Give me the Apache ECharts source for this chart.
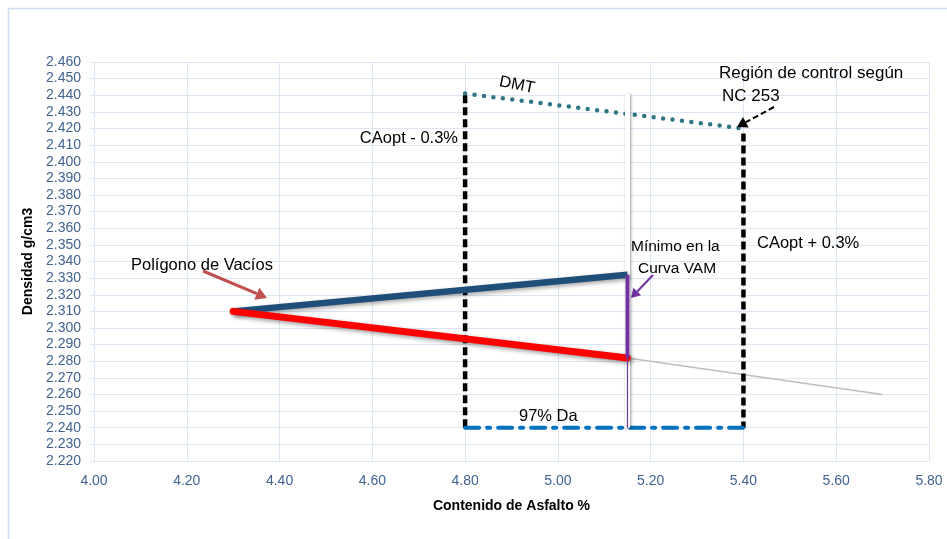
<!DOCTYPE html>
<html>
<head>
<meta charset="utf-8">
<script src="https://cdn.jsdelivr.net/npm/echarts@6/dist/echarts.min.js"></script>
<style>html,body{margin:0;padding:0;background:#fff}#c{width:947px;height:539px}</style>
</head>
<body>
<div id="c"></div>
<script>
// ---- data (x = Contenido de Asfalto %, y = Densidad g/cm3) ----
const vacSupX = [4.30, 5.15];
const vacSupY = [2.310, 2.332];
const vacInfX = [4.30, 5.15];
const vacInfY = [2.310, 2.282];
const extX = [5.15, 5.70];
const extY = [2.282, 2.260];
const dmtX = [4.80, 5.40];
const dmtY = [2.441, 2.420];
const caMenosX = [4.80, 4.80];
const caMenosY = [2.440, 2.240];
const caMasX = [5.40, 5.40];
const caMasY = [2.417, 2.240];
const vamX = [5.15, 5.15];
const vamBlancoY = [2.441, 2.240];
const vamMoradoY = [2.332, 2.282];
const vamFinoY = [2.282, 2.240];
const daX = [4.80, 5.40];
const daY = [2.240, 2.240];
const xMin = 4.00, xMax = 5.80, xStep = 0.20;
const yMin = 2.220, yMax = 2.460, yStep = 0.010;

const pts = (xs, ys) => xs.map((x, i) => [x, ys[i]]);
const FONT = 'Liberation Sans';
const gridColor = '#dce6f2';

function seg(name, xs, ys, ls, z) {
  return { name, type: 'line', data: pts(xs, ys), symbol: 'none', z: z || 2,
    lineStyle: ls, silent: true, animation: false };
}

function arrow(x1, y1, x2, y2, color, w, head, dashed) {
  const ang = Math.atan2(y2 - y1, x2 - x1);
  const hl = head, hw = head * 0.6;
  const bx = x2 - Math.cos(ang) * hl, by = y2 - Math.sin(ang) * hl;
  const px = -Math.sin(ang) * hw, py = Math.cos(ang) * hw;
  return [
    { type: 'line', shape: { x1, y1, x2: bx, y2: by }, style: { stroke: color, lineWidth: w, lineDash: dashed ? [6, 3] : null }, z: 10 },
    { type: 'polygon', shape: { points: [[x2, y2], [bx + px, by + py], [bx - px, by - py]] }, style: { fill: color }, z: 10 }
  ];
}

const txt = (x, y, text, opt, extra) => Object.assign({ type: 'text', x, y, z: 10,
  style: Object.assign({ text, fill: '#000', font: '16.5px ' + FONT, textAlign: 'left', textVerticalAlign: 'middle' }, opt || {}) }, extra || {});

const chart = echarts.init(document.getElementById('c'), null, { renderer: 'canvas' });
chart.setOption({
  animation: false,
  backgroundColor: '#fff',
  grid: { left: 94, right: 18, top: 62, bottom: 78 },
  xAxis: {
    type: 'value', min: xMin, max: xMax, interval: xStep,
    name: 'Contenido de Asfalto %', nameLocation: 'middle', nameGap: 38,
    nameTextStyle: { fontFamily: FONT, fontSize: 14, fontWeight: 'bold', color: '#000' },
    axisLine: { show: true, lineStyle: { color: gridColor, width: 1 } },
    axisTick: { show: false },
    axisLabel: { fontFamily: FONT, fontSize: 14, color: '#41628f', margin: 13, formatter: v => v.toFixed(2) },
    splitLine: { show: true, lineStyle: { color: gridColor, width: 1 } }
  },
  yAxis: {
    type: 'value', min: yMin, max: yMax, interval: yStep,
    name: 'Densidad g/cm3', nameLocation: 'middle', nameGap: 58, nameRotate: 90,
    nameTextStyle: { fontFamily: FONT, fontSize: 14, fontWeight: 'bold', color: '#000' },
    axisLine: { show: true, lineStyle: { color: gridColor, width: 1 } },
    axisTick: { show: true, length: 4, lineStyle: { color: gridColor } },
    axisLabel: { fontFamily: FONT, fontSize: 14, color: '#41628f', margin: 13, formatter: v => v.toFixed(3) },
    splitLine: { show: true, lineStyle: { color: gridColor, width: 1 } }
  },
  series: [
    seg('ext', extX, extY, { color: '#bdbdbd', width: 1.5, shadowColor: 'rgba(255,255,255,1)', shadowBlur: 3 }, 2),
    seg('DMT', dmtX, dmtY, { color: '#2e7585', width: 4.5, type: [0, 9.5], cap: 'round' }, 3),
    seg('CAopt-', caMenosX, caMenosY, { color: '#000', width: 4.5, type: [8, 4] }, 3),
    seg('CAopt+', caMasX, caMasY, { color: '#000', width: 4.5, type: [8, 4] }, 3),
    seg('Da', daX, daY, { color: '#0070c0', width: 4, type: [14, 8, 3, 8], cap: 'round' }, 4),
    seg('vamBlanco', vamX, vamBlancoY, { color: '#ffffff', width: 5, shadowColor: 'rgba(0,0,0,0.4)', shadowBlur: 3, shadowOffsetX: 1, shadowOffsetY: 1 }, 5),
    seg('vacSup', vacSupX, vacSupY, { color: '#1f4e79', width: 6.5, shadowColor: 'rgba(0,0,0,0.35)', shadowBlur: 4, shadowOffsetX: 2, shadowOffsetY: 2 }, 6),
    seg('vacInf', vacInfX, vacInfY, { color: '#ff0000', width: 7, cap: 'round', shadowColor: 'rgba(0,0,0,0.4)', shadowBlur: 4, shadowOffsetX: 2, shadowOffsetY: 2 }, 6),
    seg('vamMorado', vamX, vamMoradoY, { color: '#7030a0', width: 4 }, 7),
    seg('vamFino', vamX, vamFinoY, { color: '#7030a0', width: 1.2 }, 7)
  ]
});

const g = [
  { type: 'rect', shape: { x: 8.5, y: 8.5, width: 960, height: 560 }, style: { fill: null, stroke: '#d0ddef', lineWidth: 1.5 }, z: 0 },
  txt(517, 85, 'DMT', { textAlign: 'center' }, { rotation: -0.2 }),
  txt(458, 138, 'CAopt - 0.3%', { textAlign: 'right' }),
  txt(719, 73, 'Región de control según', { font: '17px ' + FONT }),
  txt(722, 96, 'NC 253', { font: '17px ' + FONT }),
  txt(757, 243, 'CAopt + 0.3%'),
  txt(631, 247, 'Mínimo en la', { font: '15.5px ' + FONT }),
  txt(638, 269, 'Curva VAM', { font: '15.5px ' + FONT }),
  txt(131, 265, 'Polígono de Vacíos'),
  txt(519, 416, '97% Da')
];
const arrows = [].concat(
  arrow(203, 271, 267, 298, '#c0504d', 3, 11, false),
  arrow(653, 275, 631, 298, '#7030a0', 2, 9, false),
  arrow(774, 107, 737, 127, '#000', 2, 10, true)
);
chart.setOption({ graphic: { elements: g.concat(arrows) } });
</script>
</body>
</html>
